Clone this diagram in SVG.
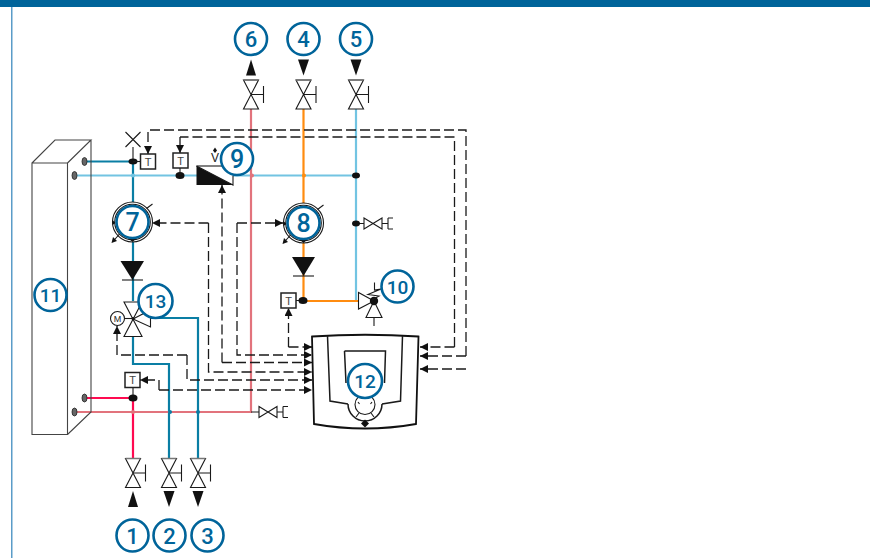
<svg xmlns="http://www.w3.org/2000/svg" width="870" height="558" viewBox="0 0 870 558">
<style>
.ln{fill:none;stroke:#1a1a1a;stroke-width:1.100}
.sh{fill:#fff;stroke:#1a1a1a;stroke-width:1.100}
.dash{fill:none;stroke:#1a1a1a;stroke-width:1.300;stroke-dasharray:10 4;marker-end:url(#ah)}
.dn{fill:none;stroke:#1a1a1a;stroke-width:1.300;stroke-dasharray:10 4}
.p{fill:none;stroke-width:2.200}
.db{stroke:#0a7ea4}
.lb{stroke:#72c4e2}
.rd{stroke:#e2737c}
.br{stroke:#ff0a50}
.or{stroke:#ff8c10}
.jn{fill:#111}
.knob{fill:#666;stroke:#222;stroke-width:.8}
.c{fill:#fff;stroke:#00649a;stroke-width:2.600}
.n{fill:#00649a;font-family:Roboto,"Liberation Sans",sans-serif;font-size:22px;font-weight:500;text-anchor:middle}
.nb{font-size:25px}
.ns{font-size:19px}
.t{fill:#444;font-family:"Liberation Sans",sans-serif;font-size:11px;text-anchor:middle}
.box{fill:#fff;stroke:#222;stroke-width:1.500}
</style>
<defs>
<marker id="ah" markerUnits="userSpaceOnUse" markerWidth="10" markerHeight="9" refX="8" refY="4" orient="auto"><path d="M0 0L8 4L0 8z" fill="#111"/></marker>
<g id="valve"><path class="sh" d="M-7.5-14.5H7.500L-7.500 14.500H7.500z"/><path class="ln" d="M0 0H12.500M12.500-8.500V8.500"/><path d="M-7.500-14.500H7.500" stroke="#777" stroke-width="1.500"/></g>
<g id="drain"><path class="sh" d="M-9-5.500L9 5.500V-5.500L-9 5.500z"/><path class="ln" d="M9 0H15M15-5.500V5.500M15-5.500H20M15 5.500H20"/></g>
<g id="pump"><circle r="20" class="sh"/><circle r="17.800" class="ln"/><path class="ln" d="M14-13.500L20-18M-13 12L-20 20"/><path class="jn" d="M-21 21L-19.500 15L-15.500 19z"/><path class="jn" d="M-5 15.500H5L0 20z"/><path class="jn" d="M-20-2L-17 1L-20 3z"/></g>
<g id="t"><rect x="-7.500" y="-7.500" width="15" height="15" class="box"/><text class="t" y="4">T</text></g>
<g id="knob"><ellipse rx="2.500" ry="4" class="knob"/></g>
</defs>

<rect x="0" y="0" width="870" height="7" fill="#00649a"/>
<rect x="11" y="7" width="1.500" height="551" fill="#5a9cc8"/>

<g id="connectors">
<path class="p lb" d="M76 175.500H197M233 175.500H356"/>
<path class="p lb" d="M356 108V301"/>
<path class="p db" d="M86 161.500H133V301M133 337V364H169V458"/>
<path class="p db" d="M150 318H198V458"/>
<path class="p rd" d="M251 108V412H76"/>
<path class="p or" d="M303.500 108V301H358"/>
<path class="p br" d="M86 398H133V458"/>
<path class="ln" d="M133 388V398M251 412H259M296 300.500H303M133 147V161"/>
<path class="ln" d="M374 317V326M356 223.500H364"/>
<path class="dash" d="M466 369H420"/>
<path class="dash" d="M466 356V130H148V154"/>
<path class="dash" d="M454.500 347H420"/>
<path class="dash" d="M466 356H420"/>
<path class="dn" d="M454.500 347V137H180"/>
<path class="dash" d="M180 137V153"/>
<path class="dash" d="M208.500 223H152"/>
<path class="dash" d="M222 362.500V185"/>
<path class="dash" d="M237 223H283"/>
<path class="dash" d="M208.500 223V372H312"/>
<path class="dash" d="M222 362.500H312"/>
<path class="dash" d="M237 223V355H312"/>
<path class="dash" d="M288.500 347V308"/>
<path class="dash" d="M288.500 347H312"/>
<path class="dash" d="M187 355H117V326"/>
<path class="dash" d="M187 355V380H312"/>
<path class="dash" d="M159 390V380H140"/>
<path class="dash" d="M159 390H312"/>
<ellipse cx="133" cy="161.500" rx="4.500" ry="3" class="jn"/>
<ellipse cx="180" cy="175.500" rx="4.500" ry="3.500" class="jn"/>
<ellipse cx="356" cy="175.500" rx="4" ry="3" class="jn"/>
<ellipse cx="356" cy="223.500" rx="4" ry="3" class="jn"/>
<ellipse cx="303" cy="300.500" rx="4.500" ry="3.500" class="jn"/>
<ellipse cx="133" cy="398" rx="4.500" ry="3.500" class="jn"/>
<circle cx="133" cy="175.500" r="2" fill="#72c4e2"/>
<circle cx="252" cy="175.500" r="2" fill="#e2737c"/>
<circle cx="304" cy="175.500" r="2" fill="#ff8c10"/>
<circle cx="133" cy="412" r="2" fill="#e2737c"/>
<circle cx="170" cy="412" r="2" fill="#0a7ea4"/>
<circle cx="198" cy="412" r="2" fill="#0a7ea4"/>
</g>

<g id="node-11">
<path class="ln" style="stroke:#444" d="M32 163H67.500V434.500H32zM32 163L55 140H91L67.500 163M91 140V412L67.500 434.500"/>
<use href="#knob" x="84.500" y="161.500"/>
<use href="#knob" x="74.500" y="175.500"/>
<use href="#knob" x="84.500" y="398"/>
<use href="#knob" x="74.500" y="412"/>
<circle class="c" cx="50.500" cy="295" r="16"/><text class="n ns" x="50.500" y="302">11</text>
</g>

<g id="air-vent"><path class="ln" d="M125.500 132L140.500 147M140.500 132L125.500 147"/></g>
<g id="sensor-1"><use href="#t" x="148" y="161.500"/><path class="ln" d="M133 161.500H140"/></g>
<g id="sensor-2"><use href="#t" x="180.500" y="160.500"/><path class="ln" d="M180 168V175"/></g>
<g id="sensor-3"><use href="#t" x="132.500" y="380"/></g>
<g id="sensor-4"><use href="#t" x="288.500" y="300.500"/></g>

<g id="node-1"><use href="#valve" x="133" y="473"/><path class="jn" d="M133 491L138 507H128z"/><circle class="c" cx="132.500" cy="535.500" r="16"/><text class="n" x="132.500" y="543.500">1</text></g>
<g id="node-2"><use href="#valve" x="169" y="473"/><path class="jn" d="M163.500 491H174.500L169 507z"/><circle class="c" cx="169.500" cy="535.500" r="16"/><text class="n" x="169.500" y="543.500">2</text></g>
<g id="node-3"><use href="#valve" x="198" y="473"/><path class="jn" d="M192.500 491H203.500L198 507z"/><circle class="c" cx="207.500" cy="535.500" r="16"/><text class="n" x="207.500" y="543.500">3</text></g>
<g id="node-6"><use href="#valve" x="251" y="94.500"/><path class="jn" d="M251 59.500L256 75.500H246z"/><circle class="c" cx="251" cy="39" r="16"/><text class="n" x="251" y="47">6</text></g>
<g id="node-4"><use href="#valve" x="303.500" y="94.500"/><path class="jn" d="M298 59.500H309L303.500 75.500z"/><circle class="c" cx="303.500" cy="39" r="16"/><text class="n" x="303.500" y="47">4</text></g>
<g id="node-5"><use href="#valve" x="356" y="94.500"/><path class="jn" d="M350.500 59.500H361.500L356 75.500z"/><circle class="c" cx="356" cy="39" r="16"/><text class="n" x="356" y="47">5</text></g>

<g id="node-7"><use href="#pump" x="132.500" y="222"/><circle class="c" cx="132.500" cy="222" r="16"/><text class="n nb" x="132.500" y="231">7</text></g>
<g id="check-7"><path class="jn" d="M120.500 261H144L132.500 280z"/><path class="ln" d="M122 280H143"/></g>
<g id="node-8"><use href="#pump" x="303.500" y="223"/><circle class="c" cx="303.500" cy="223" r="16"/><text class="n nb" x="303.500" y="232">8</text></g>
<g id="check-8"><path class="jn" d="M292 257H315L303.500 276z"/><path class="ln" d="M293 276H314"/></g>

<g id="node-9">
<path class="ln" d="M196.500 166H225"/>
<path class="jn" d="M196.500 166L233 185H196.500z"/>
<path class="ln" d="M196.500 166L233 185V175.500"/>
<text x="215" y="162" font-family="Liberation Sans, sans-serif" font-size="12" text-anchor="middle" fill="#222">V</text>
<path class="jn" d="M215 147.500L217 150.500L215 153L213 150.500z"/>
<circle class="c" cx="237" cy="159" r="16"/><text class="n nb" x="237" y="168">9</text>
</g>

<g id="node-13">
<path class="sh" d="M124 302H142L124 336.500H142z"/>
<path class="sh" d="M133 319L150.500 310V327z"/>
<circle class="sh" cx="117.500" cy="318.500" r="7"/>
<text x="117.500" y="322" font-family="Liberation Sans, sans-serif" font-size="9" text-anchor="middle" fill="#222">M</text>
<circle class="jn" cx="133" cy="318.500" r="1.500"/>
<path class="ln" d="M124.500 318.500H133"/>
<circle class="c" cx="155.500" cy="301" r="17"/><text class="n ns" x="155.500" y="308">13</text>
</g>

<g id="drain-1"><use href="#drain" x="268" y="412"/></g>
<g id="drain-2"><use href="#drain" x="373" y="223.500"/></g>

<g id="node-10">
<path class="sh" d="M358.500 292.500V309L374 301z"/>
<path class="sh" d="M374 301L382 317.500H366z"/>
<circle class="jn" cx="374" cy="301" r="4.200"/>
<path class="ln" d="M374.500 282.500V290L381 289L368 294.500L379 296L372 300"/>
<circle class="c" cx="397.500" cy="286.500" r="16"/><text class="n ns" x="397.500" y="293.500">10</text>
</g>

<g id="node-12">
<path fill="#fff" stroke="#111" stroke-width="1.800" d="M312 336.500Q365 333 418.500 336.500L416 424Q365 433 314 424z"/>
<path class="ln" style="stroke-width:1.500" d="M327.500 336L330 401L348 404M402.500 336L400.500 401L382 404"/>
<path class="ln" style="stroke-width:1.500" d="M344.500 351H385.500L384.500 383M344.500 351L346 383"/>
<path class="ln" style="stroke-width:1.500" d="M348 404A17 17 0 0 0 382 404"/>
<circle class="sh" cx="365" cy="404.500" r="10"/>
<path class="jn" d="M365 419.500L369 423.500L365 427.500L361 423.500z"/>
<path class="ln" d="M356 417L359 413M374 417L371 413M359.500 404L358 402M370.500 404L372 402"/>
<circle class="c" cx="365" cy="381" r="17"/><text class="n ns" x="365" y="388">12</text>
</g>
</svg>
